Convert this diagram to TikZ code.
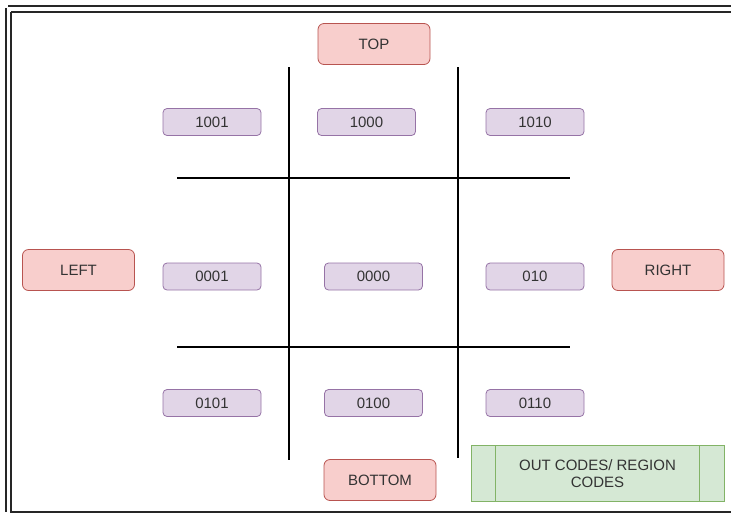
\documentclass[tikz,border=0pt]{standalone}
\usepackage{fontspec}
\setmainfont{Liberation Sans}
\definecolor{pfill}{HTML}{E1D5E7}
\definecolor{pdraw}{HTML}{9673A6}
\definecolor{rfill}{HTML}{F8CECC}
\definecolor{rdraw}{HTML}{B85450}
\definecolor{gfill}{HTML}{D5E8D4}
\definecolor{gdraw}{HTML}{82B366}
\definecolor{txt}{HTML}{333333}
\tikzset{
  box/.style={rounded corners=4pt, line width=0.8pt, inner sep=0pt, font=\fontsize{15}{16.5}\selectfont, text=txt},
  code/.style={box, fill=pfill, draw=pdraw, minimum width=98pt, minimum height=27pt},
  side/.style={box, fill=rfill, draw=rdraw, minimum width=112pt, minimum height=41pt, rounded corners=6pt},
  grid/.style={line width=1.2pt, black},
  frame/.style={line width=1.3pt, black!85}
}
\begin{document}
\begin{tikzpicture}[x=1pt,y=-1pt]
\useasboundingbox (0,0) rectangle (731,515);
% frame
\draw[frame] (8,6) -- (731,6);
\draw[frame] (11,12) -- (731,12);
\draw[frame] (6,8) -- (6,512);
\draw[frame] (11,12) -- (11,512);
\draw[frame] (10,512) -- (731,512);
% grid lines
\coordinate (h1a) at (177,178); \coordinate (h1b) at (570,178);
\coordinate (h2a) at (177,347); \coordinate (h2b) at (570,347);
\coordinate (v1a) at (289,67); \coordinate (v1b) at (289,460);
\coordinate (v2a) at (458,67); \coordinate (v2b) at (458,458);
\draw[grid] (h1a) -- (h1b);
\draw[grid] (h2a) -- (h2b);
\draw[grid] (v1a) -- (v1b);
\draw[grid] (v2a) -- (v2b);
% side nodes
\node[side] (top) at (374,44) {TOP};
\node[side] (left) at (78.5,270) {LEFT};
\node[side] (right) at (668,270) {RIGHT};
\node[side] (bottom) at (380,480) {BOTTOM};
% codes
\node[code] (c1001) at (212,122) {1001};
\node[code] (c1000) at (366.5,122) {1000};
\node[code] (c1010) at (535,122) {1010};
\node[code] (c0001) at (212,276.5) {0001};
\node[code] (c0000) at (373.5,276.5) {0000};
\node[code] (c010) at (535,276.5) {010};
\node[code] (c0101) at (212,403) {0101};
\node[code] (c0100) at (373.5,403) {0100};
\node[code] (c0110) at (535,403) {0110};
% legend
\node[box, rounded corners=0pt, fill=gfill, draw=gdraw, minimum width=253pt, minimum height=56pt, align=center] (legend) at (597.5,473.5) {OUT CODES/ REGION\\CODES};
\draw[gdraw, line width=0.8pt] ([xshift=25pt]legend.north west) -- ([xshift=25pt]legend.south west);
\draw[gdraw, line width=0.8pt] ([xshift=-25pt]legend.north east) -- ([xshift=-25pt]legend.south east);
\end{tikzpicture}
\end{document}
